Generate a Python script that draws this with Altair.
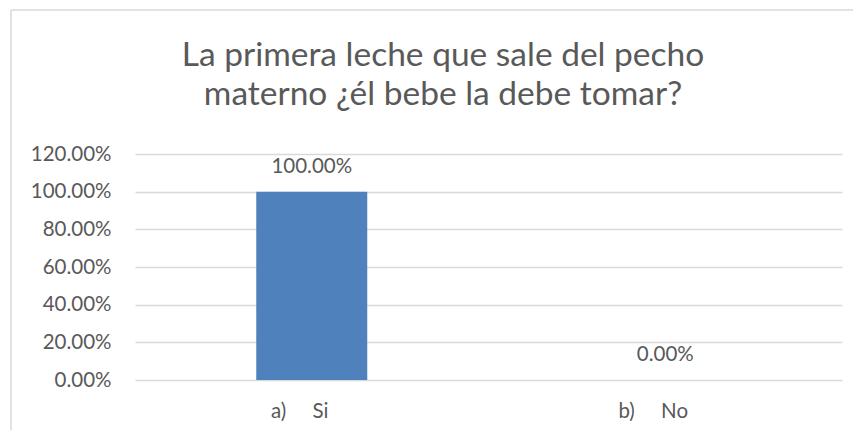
import altair as alt
import pandas as pd

NB = "\u00a0"
categories = ["a)" + NB * 5 + "Si", "b)" + NB * 5 + "No"]
values = [1.0, 0.0]
y_ticks = [0.0, 0.2, 0.4, 0.6, 0.8, 1.0, 1.2]
title_lines = ["La primera leche que sale del pecho", "materno ¿él bebe la debe tomar?"]

df = pd.DataFrame({"cat": categories, "val": values})

FONT = "Lato"
GRAY = "#595959"
FS = 20.5

x_enc = alt.X("cat:N", sort=categories, title=None,
              scale=alt.Scale(paddingInner=0, paddingOuter=0),
              axis=alt.Axis(labelAngle=0, labelFont=FONT, labelFontSize=FS, labelColor=GRAY,
                            labelPadding=21, labelOffset=-12, ticks=False, domain=False, grid=False))
y_enc = alt.Y("val:Q", title=None,
              scale=alt.Scale(domain=[0, 1.2], nice=False),
              axis=alt.Axis(values=y_ticks, format=".2%", labelFont=FONT, labelFontSize=FS,
                            labelColor=GRAY, labelPadding=24, labelOverlap=False, ticks=False,
                            domain=False, grid=True, gridColor="#d9d9d9", gridWidth=1.3))

base = alt.Chart(df)
bars = base.mark_bar(size=111, color="#4F81BD").encode(x=x_enc, y=y_enc)
labels = base.mark_text(baseline="alphabetic", dy=-19, font=FONT, fontSize=FS, color=GRAY).encode(
    x=x_enc, y=y_enc, text=alt.Text("val:Q", format=".2%"))

one = alt.Data(values=[{"k": 1}])
left_border = alt.Chart(one).mark_rule(color="#d9d9d9", strokeWidth=1.5).encode(
    x=alt.value(-124), y=alt.value(-144), y2=alt.value(300))
top_border = alt.Chart(one).mark_rule(color="#d9d9d9", strokeWidth=1.5).encode(
    x=alt.value(-124), x2=alt.value(760), y=alt.value(-144))

title1 = alt.Chart(alt.Data(values=[{"t": title_lines[0]}])).mark_text(
    font=FONT, fontSize=33.5, color=GRAY, align="center", baseline="alphabetic").encode(
    x=alt.value(308), y=alt.value(-88), text="t:N")
title2 = alt.Chart(alt.Data(values=[{"t": title_lines[1]}])).mark_text(
    font=FONT, fontSize=33.5, color=GRAY, align="center", baseline="alphabetic").encode(
    x=alt.value(308), y=alt.value(-49), text="t:N")

chart = alt.layer(left_border, top_border, title1, title2, bars, labels).properties(
    width=707, height=226,
    autosize=alt.AutoSizeParams(type="none"),
    padding={"left": 127, "top": 146, "right": 11, "bottom": 50},
).configure_view(stroke=None)

chart.save("out.html", embed_options={"renderer": "svg", "actions": False})
